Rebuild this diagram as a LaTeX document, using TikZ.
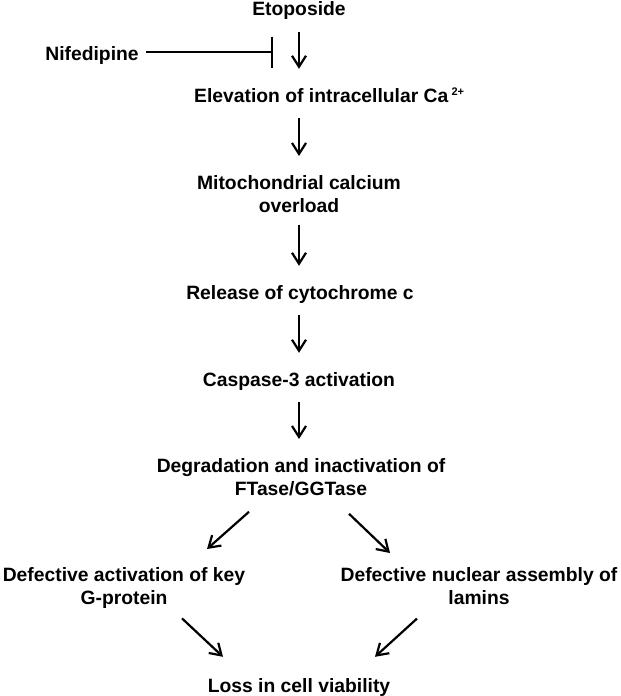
\documentclass[tikz,border=0pt]{standalone}
\usepackage{fontspec}
\setmainfont{Liberation Sans}
\usetikzlibrary{arrows.meta,calc}

\begin{document}
\begin{tikzpicture}[x=1pt, y=-1pt,
  >={Straight Barb[length=11pt,width=14pt]},
  lbl/.style={font=\fontsize{19.3}{23}\selectfont\bfseries, inner sep=0pt,
    text height=14pt, text depth=4pt, anchor=base},
  lbltwo/.style={font=\fontsize{19.3}{23}\selectfont\bfseries, inner sep=0pt,
    align=center, anchor=north},
  arr/.style={->, line width=2.2pt, shorten <=12pt, shorten >=19pt},
  darr/.style={->, line width=2.2pt},
  inh/.style={-{Bar[width=31pt]}, line width=2.2pt, shorten <=7pt}]
  \useasboundingbox (0,0) rectangle (621,696);

  % Steps of the pathway
  \node[lbl] (etop) at (299,16) {Etoposide};
  \node[lbl] (nife) at (92,60) {Nifedipine};
  \node[lbl, anchor=base west] (elev) at (194,102)
    {Elevation of intracellular Ca\,\raisebox{6.5pt}{\fontsize{11}{11}\selectfont 2+}};
  \node[lbltwo] (mito) at (299,175) {Mitochondrial calcium\\overload};
  \node[lbl] (rel) at (300,299) {Release of cytochrome c};
  \node[lbl] (casp) at (299,386) {Caspase-3 activation};
  \node[lbltwo] (degr) at (301,458) {Degradation and inactivation of\\FTase/GGTase};
  \node[lbltwo] (gprot) at (124,567) {Defective activation of key\\G-protein};
  \node[lbltwo] (lamin) at (479,567) {Defective nuclear assembly of\\lamins};
  \node[lbl] (loss) at (299,692) {Loss in cell viability};

  % Inhibition
  \coordinate (blk) at (273,52);
  \draw[inh] (nife.east |- blk) -- (blk);

  % Arrows down the middle
  \draw[arr] (etop.south) -- (etop.south |- elev.north);
  \draw[arr] (mito.north |- elev.south) -- (mito.north);
  \draw[arr] (mito.south) -- (mito.south |- rel.north);
  \draw[arr] (mito.south |- rel.south) -- (mito.south |- casp.north);
  \draw[arr] (mito.south |- casp.south) -- (mito.south |- degr.north);

  % Branches
  \draw[darr] ($(degr.south)+(-52,16)$) -- ($(gprot.north)+(83,-18)$);
  \draw[darr] ($(degr.south)+(48,18)$) -- ($(lamin.north)+(-89,-14)$);
  \draw[darr] ($(gprot.south)+(58,10)$) -- ($(loss.north)+(-76,-21)$);
  \draw[darr] ($(lamin.south)+(-62,14)$) -- ($(loss.north)+(76,-21)$);
\end{tikzpicture}
\end{document}
